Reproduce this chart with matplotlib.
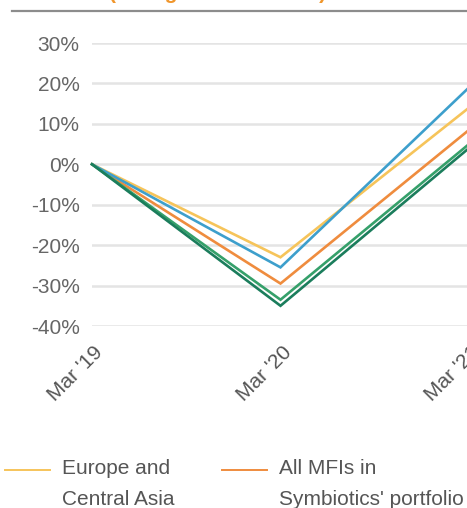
import matplotlib
matplotlib.use("Agg")
import matplotlib.pyplot as plt
import matplotlib.transforms as mtransforms
from matplotlib.lines import Line2D

plt.rcParams['font.family'] = ['Liberation Sans', 'DejaVu Sans']

# data (cumulative change vs. March 2019, in %)
periods = ["Mar '19", "Mar '20", "Mar '21"]
europe_ca = [0, -23, 14]
latam = [0, -25.5, 19]
all_mfis = [0, -29.5, 8.5]
east_asia = [0, -33.5, 5]
south_asia = [0, -35, 4]
y_ticks = [30, 20, 10, 0, -10, -20, -30, -40]

series = [
    ("Europe and\nCentral Asia", europe_ca, "#f6c45a"),
    ("All MFIs in\nSymbiotics' portfolio", all_mfis, "#ef8c3e"),
    ("Latin America and\nthe Caribbean", latam, "#3d9fcc"),
    ("East Asia and\nPacific", east_asia, "#35a06a"),
    ("South and\nSouth-East Asia", south_asia, "#1b7d5c"),
]

W, H = 467, 508
fig = plt.figure(figsize=(W / 100, H / 100), dpi=100)
ax = fig.add_axes([92 / W, 182 / H, 377 / W, 283 / H])

x = list(range(len(periods)))
for label, vals, col in series:
    ax.plot(x, vals, color=col, lw=1.9, solid_joinstyle="miter", clip_on=False, zorder=3)

ax.set_xlim(0, 2)
ax.set_ylim(-40, 30)
ax.set_yticks(y_ticks)
ax.set_yticklabels([f"{t}%" for t in y_ticks], color="#666666", fontsize=15)
ax.yaxis.grid(True, color="#e4e4e4", lw=1.8)
ax.set_axisbelow(True)
ax.tick_params(axis="y", length=0, pad=9)
ax.tick_params(axis="x", length=0, pad=17)
for s in ax.spines.values():
    s.set_visible(False)

ax.set_xticks(x)
ax.set_xticklabels(periods, rotation=45, ha="right", va="center",
                   rotation_mode="anchor", color="#555555", fontsize=15)
shift = mtransforms.ScaledTranslation(8 / 100, 0, fig.dpi_scale_trans)
for lbl in ax.get_xticklabels():
    lbl.set_transform(lbl.get_transform() + shift)

# title, mostly cut off at the top of the crop
fig.text(218 / W, 1 + 1 / H, "(change vs. Mar 2019)", color="#f0962c",
         fontsize=15, fontweight="bold", ha="center", va="baseline")
fig.add_artist(Line2D([12 / W, 1], [1 - 11 / H] * 2, color="#8c8c8c", lw=1.6))

# legend row (runs off the right edge)
lx = [5, 222, 480]
for (label, vals, col), x0 in zip(series[:3], lx):
    fig.add_artist(Line2D([x0 / W, (x0 + 45) / W], [1 - 470 / H] * 2, color=col, lw=1.4))
    fig.text((x0 + 57) / W, 1 - 459 / H, label, color="#555555", fontsize=15,
             ha="left", va="top", linespacing=1.78)

fig.savefig("out.png", dpi=100)
